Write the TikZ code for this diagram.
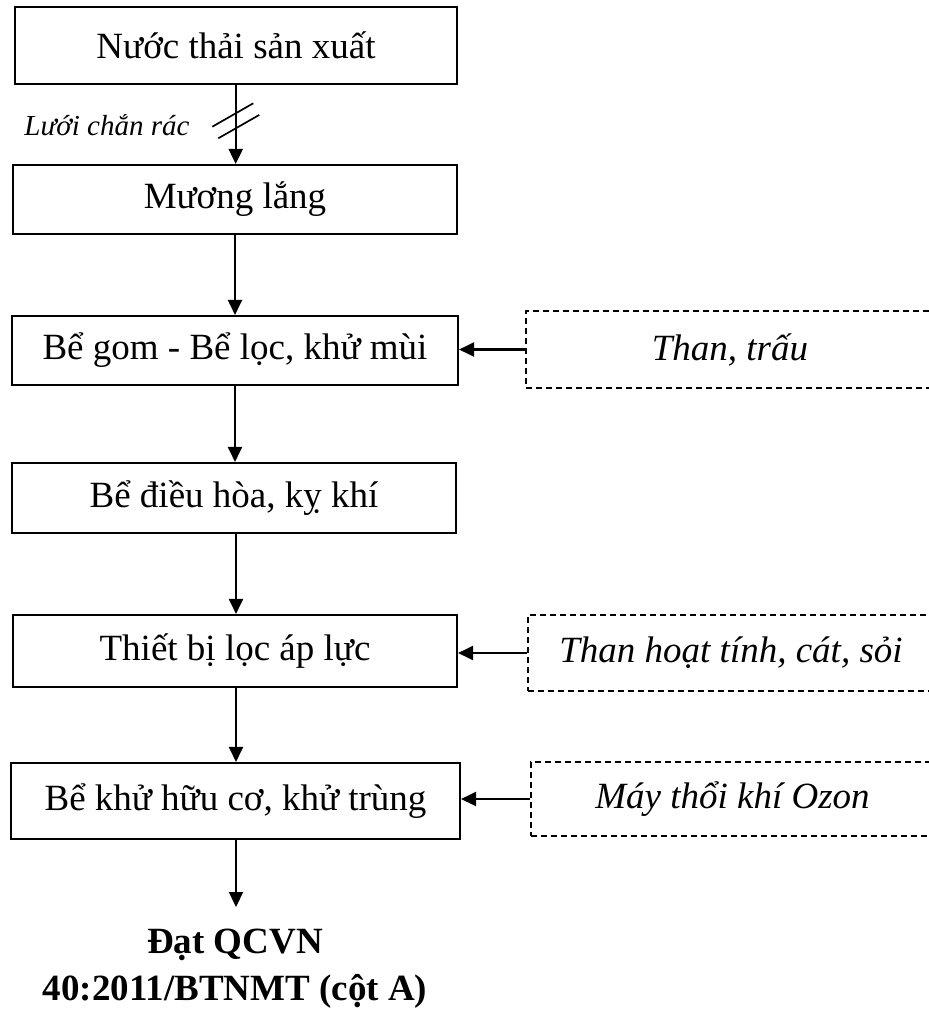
\documentclass[tikz,border=0pt]{standalone}
\usepackage{fontspec}
\setmainfont{Liberation Serif}
\usetikzlibrary{arrows.meta}
\tikzset{
  mainbox/.style={draw, line width=2.1pt, minimum width=444pt, inner sep=0pt,
    font=\fontsize{37}{44}\selectfont},
  dashbox/.style={draw, line width=1.6pt, dash pattern=on 6pt off 4pt, inner sep=0pt,
    font=\itshape\fontsize{37}{44}\selectfont},
  flow/.style={line width=2.1pt, -{Triangle[length=15pt,width=14pt]}},
  hatch/.style={line width=1.7pt},
}
\begin{document}
\begin{tikzpicture}[x=1pt,y=-1pt]
\useasboundingbox (0,0) rectangle (929,1012);
\clip (0,0) rectangle (929,1012);
\node[mainbox, minimum height=77pt, minimum width=442pt] (b1) at (236,45.5) {Nước thải sản xuất};
\node[mainbox, minimum height=69pt] (b2) at (235,199.5) {Mương lắng};
\node[mainbox, minimum height=69pt, minimum width=446pt] (b3) at (235,350.5) {Bể gom - Bể lọc, khử mùi};
\node[mainbox, minimum height=70pt] (b4) at (234,498) {Bể điều hòa, kỵ khí};
\node[mainbox, minimum height=72pt] (b5) at (235,651) {Thiết bị lọc áp lực};
\node[mainbox, minimum height=76pt, minimum width=449pt] (b6) at (235.5,801) {Bể khử hữu cơ, khử trùng};

\node[dashbox, minimum width=408pt, minimum height=77pt] (dA) at (730,349.5) {Than, trấu};
\node[dashbox, minimum width=406pt, minimum height=76pt] (dB) at (731,653) {Than hoạt tính, cát, sỏi};
\node[dashbox, minimum width=403pt, minimum height=74pt] (dC) at (732.5,799) {Máy thổi khí Ozon};

\node[font=\itshape\fontsize{29}{34}\selectfont, inner sep=0pt] (lbl) at (107,125) {Lưới chắn rác};

\node[font=\bfseries\fontsize{37}{47}\selectfont, align=center, inner xsep=0pt, inner ysep=22pt, anchor=north] (res) at (235,907)
  {Đạt QCVN\\40:2011/BTNMT (cột A)};

\draw[flow] (b1.south -| 235.7,0) -- (b2.north -| 235.7,0);
\draw[flow] (b2.south -| 235,0) -- (b3.north -| 235,0);
\draw[flow] (b3.south -| 235,0) -- (b4.north -| 235,0);
\draw[flow] (b4.south -| 236,0) -- (b5.north -| 236,0);
\draw[flow] (b5.south -| 236,0) -- (b6.north -| 236,0);
\draw[flow] (b6.south -| 236,0) -- (res.north -| 236,0);

\draw[flow] (dA.west) -- (dA.west -| b3.east);
\draw[flow] (dB.west) -- (dB.west -| b5.east);
\draw[flow] (dC.west) -- (dC.west -| b6.east);

\coordinate (h1a) at (212.3,126.7);
\coordinate (h1b) at (253.3,103.3);
\coordinate (h2a) at (218.3,138.3);
\coordinate (h2b) at (259.3,114.9);
\draw[hatch] (h1a) -- (h1b);
\draw[hatch] (h2a) -- (h2b);
\end{tikzpicture}
\end{document}
